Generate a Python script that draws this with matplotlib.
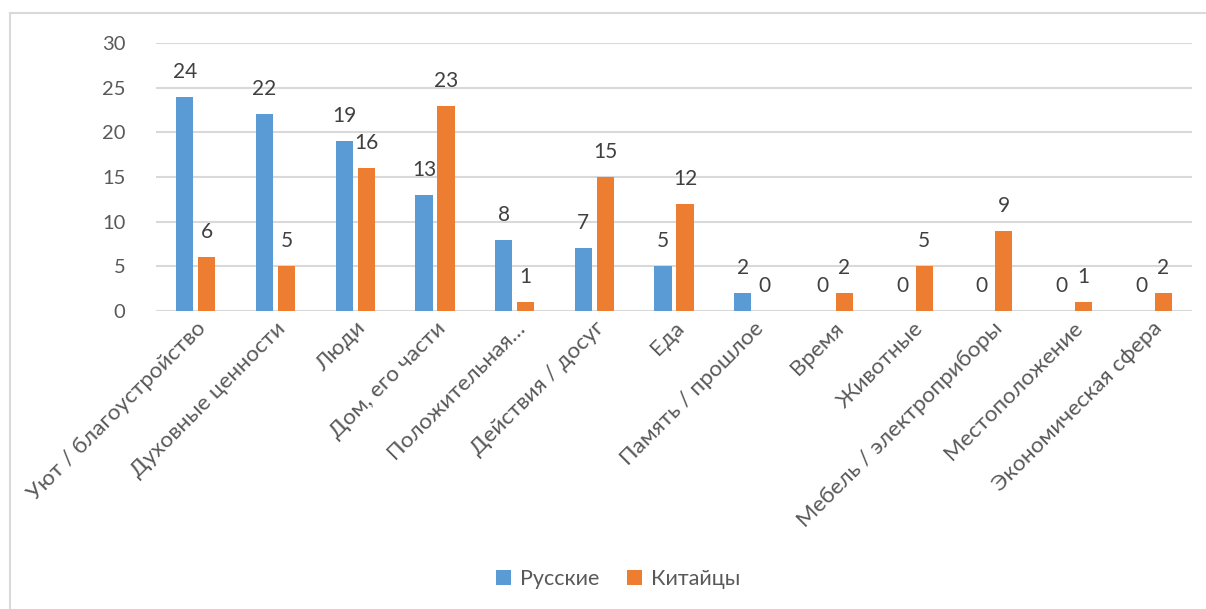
import matplotlib.pyplot as plt
from matplotlib.lines import Line2D
import numpy as np

categories = ['Уют / благоустройство', 'Духовные ценности', 'Люди', 'Дом, его части',
              'Положительная…', 'Действия / досуг', 'Еда', 'Память / прошлое',
              'Время', 'Животные', 'Мебель / электроприборы', 'Местоположение',
              'Экономическая сфера']
russians = [24, 22, 19, 13, 8, 7, 5, 2, 0, 0, 0, 0, 0]
chinese = [6, 5, 16, 23, 1, 15, 12, 0, 2, 5, 9, 1, 2]

blue = '#5b9bd5'
orange = '#ed7d31'
text_col = '#595959'
fs = 14.5

plt.rcParams['font.family'] = ['Lato', 'DejaVu Sans']

fig = plt.figure(figsize=(12.06, 6.09), dpi=100)
ax = fig.add_axes([0.1294, 0.4893, 0.8590, 0.4401])

x = np.arange(len(categories))
w = 0.215
off = 0.138
b1 = ax.bar(x - off, russians, w, color=blue, label='Русские', zorder=3)
b2 = ax.bar(x + off, chinese, w, color=orange, label='Китайцы', zorder=3)

# value labels above each bar
for bars in (b1, b2):
    for bar in bars:
        h = bar.get_height()
        ax.annotate(f'{h:g}', (bar.get_x() + bar.get_width() / 2, h),
                    xytext=(0, 18), textcoords='offset points',
                    ha='center', va='center', fontsize=fs + 0.5, color='#404040')

ax.set_xlim(-0.5, len(categories) - 0.5)
ax.set_ylim(0, 30)
ax.set_yticks(range(0, 31, 5))
ax.yaxis.grid(True, color='#d9d9d9', linewidth=1.5, zorder=0)
ax.tick_params(axis='y', length=0, pad=22, labelsize=fs, labelcolor=text_col)
ax.tick_params(axis='x', length=0, pad=5)
ax.set_xticks(x)
ax.set_xticklabels(categories, rotation=45, ha='right', rotation_mode='anchor',
                   fontsize=16.2, color=text_col)
for s in ax.spines.values():
    s.set_visible(False)

ax.legend(loc='center', bbox_to_anchor=(618 / 1206, 1 - 579 / 609), bbox_transform=fig.transFigure,
          ncol=2, frameon=False, fontsize=15.5, labelcolor=text_col,
          handlelength=0.7, handleheight=0.7, handletextpad=0.4, columnspacing=1.3)

# chart area frame (top and left edges)
fig.add_artist(Line2D([10 / 1206, 1], [1 - 13 / 609] * 2, transform=fig.transFigure,
                      color='#d9d9d9', linewidth=1.5))
fig.add_artist(Line2D([10 / 1206] * 2, [0, 1 - 13 / 609], transform=fig.transFigure,
                      color='#d9d9d9', linewidth=1.5))

fig.savefig('out.png', dpi=100)
